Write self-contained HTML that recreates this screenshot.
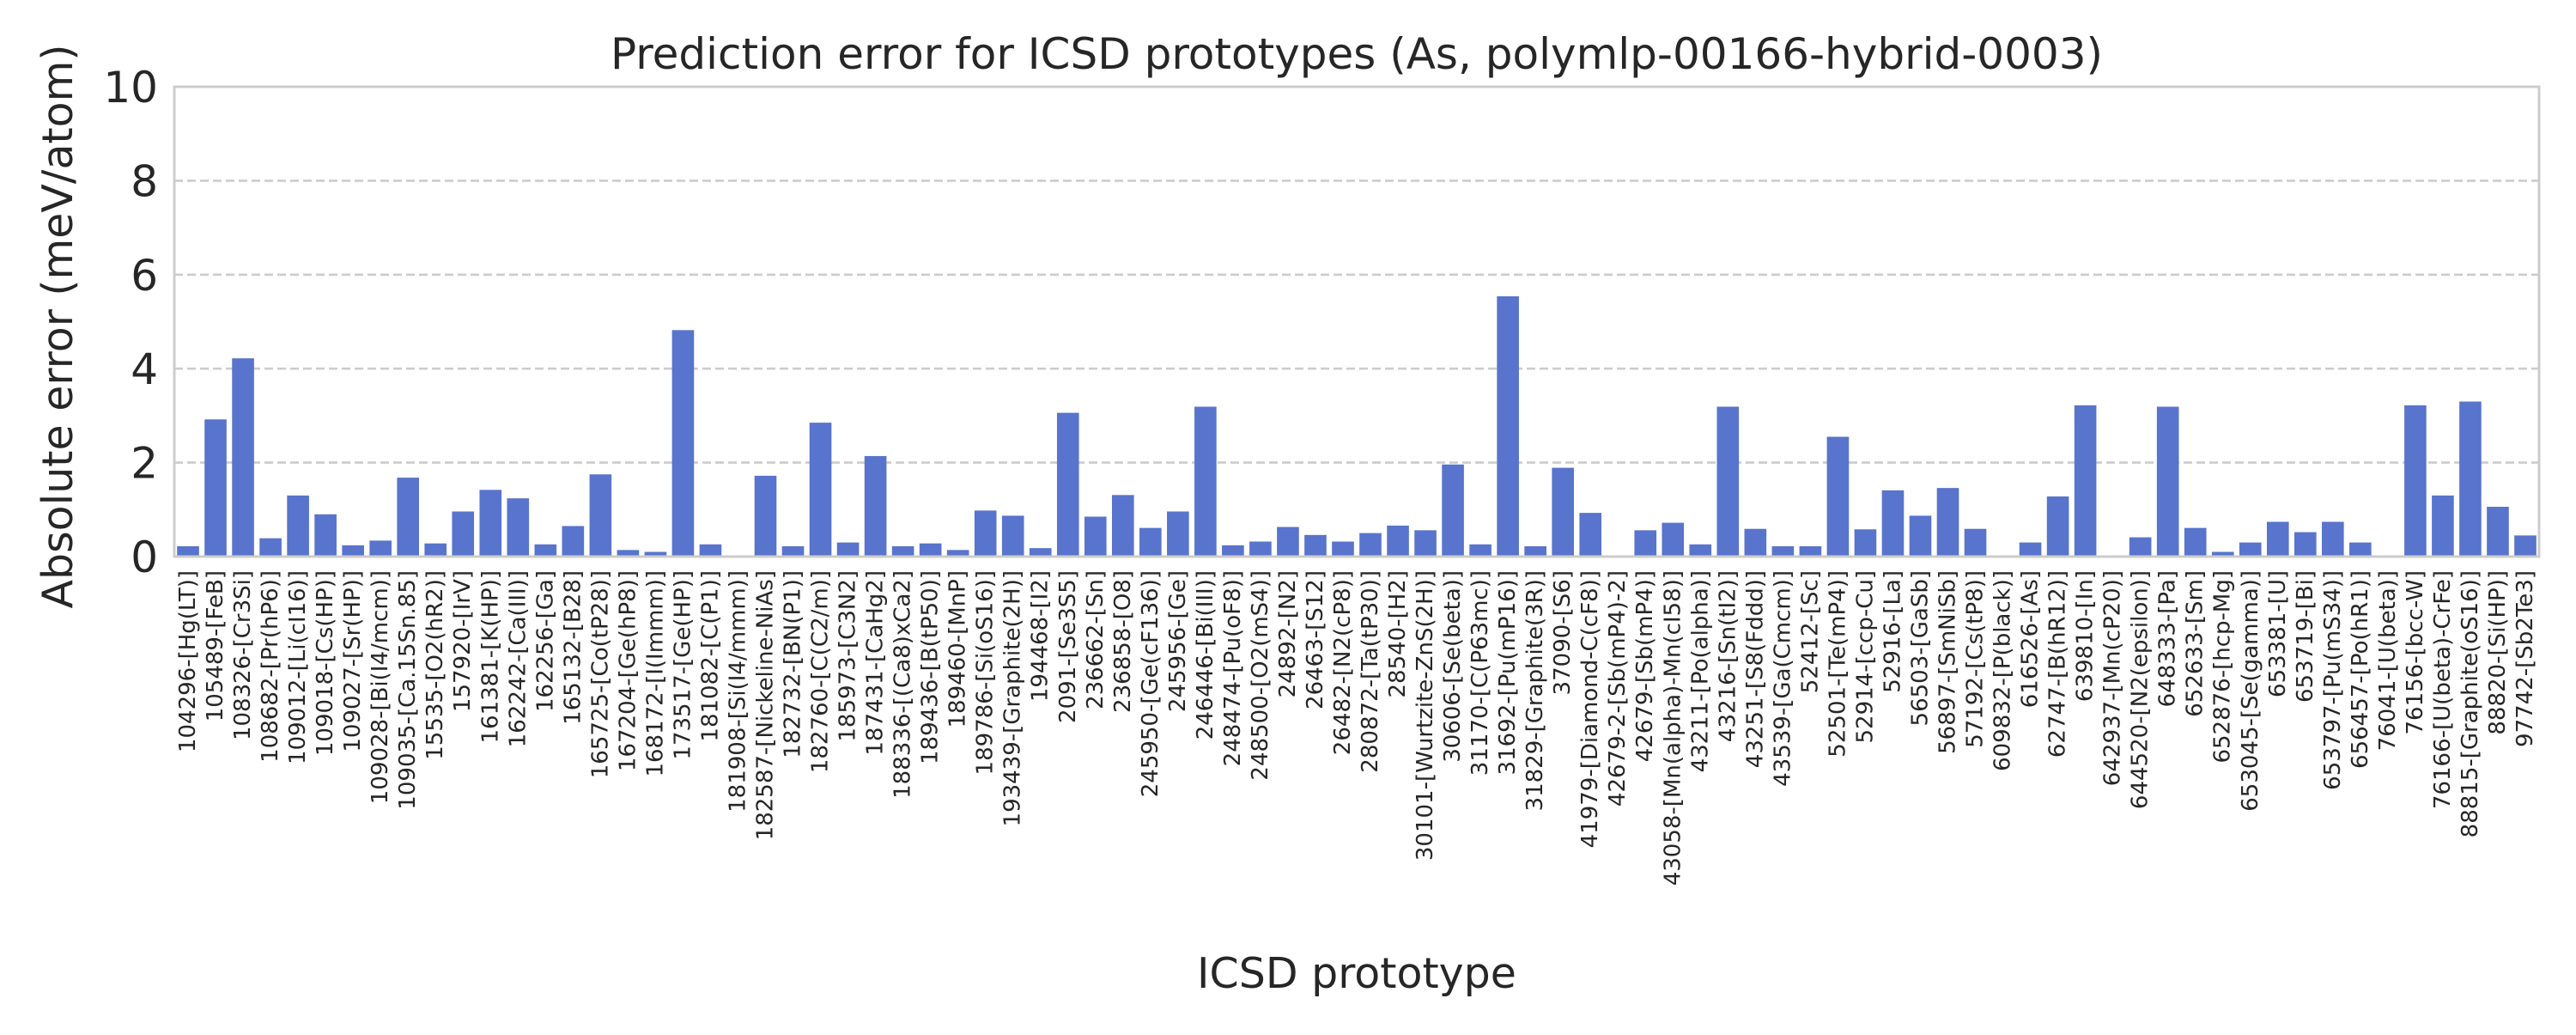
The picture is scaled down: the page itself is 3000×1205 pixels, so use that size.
<!DOCTYPE html>
<html><head><meta charset="utf-8"><style>
html,body{margin:0;padding:0;background:#fff;}
svg text{font-family:"DejaVu Sans","Liberation Sans",sans-serif;fill:#262626;}
</style></head><body>
<svg id="chart" width="3000" height="1200" viewBox="0 0 3000 1200" xmlns="http://www.w3.org/2000/svg">
<rect x="0" y="0" width="3000" height="1200" fill="#fff"/>
<text x="1580" y="80" font-size="50" text-anchor="middle">Prediction error for ICSD prototypes (As, polymlp-00166-hybrid-0003)</text>
<g id="grid"></g>
<g id="bars"></g>
<rect x="203" y="101" width="2754" height="547" fill="none" stroke="#cccccc" stroke-width="3"/>
<g id="yticks"></g>
<g id="xticks"></g>
<text transform="translate(84,380) rotate(-90)" font-size="49" text-anchor="middle">Absolute error (meV/atom)</text>
<text x="1580" y="1150" font-size="49" text-anchor="middle">ICSD prototype</text>
</svg>
<script>
const categories = ["104296-[Hg(LT)]","105489-[FeB]","108326-[Cr3Si]","108682-[Pr(hP6)]","109012-[Li(cI16)]","109018-[Cs(HP)]","109027-[Sr(HP)]","109028-[Bi(I4/mcm)]","109035-[Ca.15Sn.85]","15535-[O2(hR2)]","157920-[IrV]","161381-[K(HP)]","162242-[Ca(III)]","162256-[Ga]","165132-[B28]","165725-[Co(tP28)]","167204-[Ge(hP8)]","168172-[I(Immm)]","173517-[Ge(HP)]","181082-[C(P1)]","181908-[Si(I4/mmm)]","182587-[Nickeline-NiAs]","182732-[BN(P1)]","182760-[C(C2/m)]","185973-[C3N2]","187431-[CaHg2]","188336-[(Ca8)xCa2]","189436-[B(tP50)]","189460-[MnP]","189786-[Si(oS16)]","193439-[Graphite(2H)]","194468-[I2]","2091-[Se3S5]","236662-[Sn]","236858-[O8]","245950-[Ge(cF136)]","245956-[Ge]","246446-[Bi(III)]","248474-[Pu(oF8)]","248500-[O2(mS4)]","24892-[N2]","26463-[S12]","26482-[N2(cP8)]","280872-[Ta(tP30)]","28540-[H2]","30101-[Wurtzite-ZnS(2H)]","30606-[Se(beta)]","31170-[C(P63mc)]","31692-[Pu(mP16)]","31829-[Graphite(3R)]","37090-[S6]","41979-[Diamond-C(cF8)]","42679-2-[Sb(mP4)-2]","42679-[Sb(mP4)]","43058-[Mn(alpha)-Mn(cI58)]","43211-[Po(alpha)]","43216-[Sn(tI2)]","43251-[S8(Fddd)]","43539-[Ga(Cmcm)]","52412-[Sc]","52501-[Te(mP4)]","52914-[ccp-Cu]","52916-[La]","56503-[GaSb]","56897-[SmNiSb]","57192-[Cs(tP8)]","609832-[P(black)]","616526-[As]","62747-[B(hR12)]","639810-[In]","642937-[Mn(cP20)]","644520-[N2(epsilon)]","648333-[Pa]","652633-[Sm]","652876-[hcp-Mg]","653045-[Se(gamma)]","653381-[U]","653719-[Bi]","653797-[Pu(mS34)]","656457-[Po(hR1)]","76041-[U(beta)]","76156-[bcc-W]","76166-[U(beta)-CrFe]","88815-[Graphite(oS16)]","88820-[Si(HP)]","97742-[Sb2Te3]"];
const errors = [0.22,2.92,4.22,0.39,1.30,0.90,0.24,0.34,1.68,0.28,0.96,1.42,1.24,0.26,0.65,1.75,0.14,0.10,4.82,0.26,0,1.72,0.22,2.85,0.30,2.14,0.22,0.28,0.14,0.98,0.87,0.18,3.06,0.85,1.31,0.61,0.96,3.19,0.24,0.32,0.63,0.46,0.32,0.50,0.66,0.56,1.96,0.26,5.54,0.22,1.89,0.93,0,0.56,0.72,0.26,3.19,0.59,0.22,0.22,2.55,0.58,1.41,0.87,1.46,0.59,0,0.30,1.28,3.22,0,0.41,3.19,0.61,0.10,0.30,0.74,0.52,0.74,0.30,0,3.22,1.30,3.30,1.06,0.45];
const yTicks = [0,2,4,6,8,10];
const gridTicks = [2,4,6,8];

const NS = "http://www.w3.org/2000/svg";
const L = 203, R = 2957, T = 101, B = 648;
const yMin = 0, yMax = 10;
const band = (R - L) / categories.length;
function yScale(v){ return B - (v - yMin) / (yMax - yMin) * (B - T); }
function xCenter(i){ return L + band * (i + 0.5); }
function mk(tag, attrs){ const e = document.createElementNS(NS, tag); for (const k in attrs) e.setAttribute(k, attrs[k]); return e; }

const grid = document.getElementById('grid');
gridTicks.forEach(v => {
  const ln = mk('line', {x1: L, x2: R, y1: yScale(v), y2: yScale(v), stroke: '#cccccc', 'stroke-width': 2.6, 'stroke-dasharray': '10,5'});
  
  
  grid.appendChild(ln);
});

const yt = document.getElementById('yticks');
yTicks.forEach(v => {
  const t = mk('text', {x: 184, y: yScale(v) + 18, 'font-size': 50, 'text-anchor': 'end'});
  t.textContent = String(v);
  
  
  yt.appendChild(t);
});

const bars = document.getElementById('bars');
const xt = document.getElementById('xticks');
const bw = band * 0.8;
categories.forEach((c, i) => {
  const v = errors[i];
  const y = yScale(v);
  const r = mk('rect', {x: xCenter(i) - bw / 2, y: y, width: bw, height: B - y, fill: '#5874cc'});
  
  
  bars.appendChild(r);
  const t = mk('text', {transform: 'translate(' + xCenter(i) + ',664) rotate(-90)', 'font-size': 26, 'text-anchor': 'end', 'dominant-baseline': 'central'});
  t.textContent = c;
  
  
  xt.appendChild(t);
});
</script>
</body></html>
